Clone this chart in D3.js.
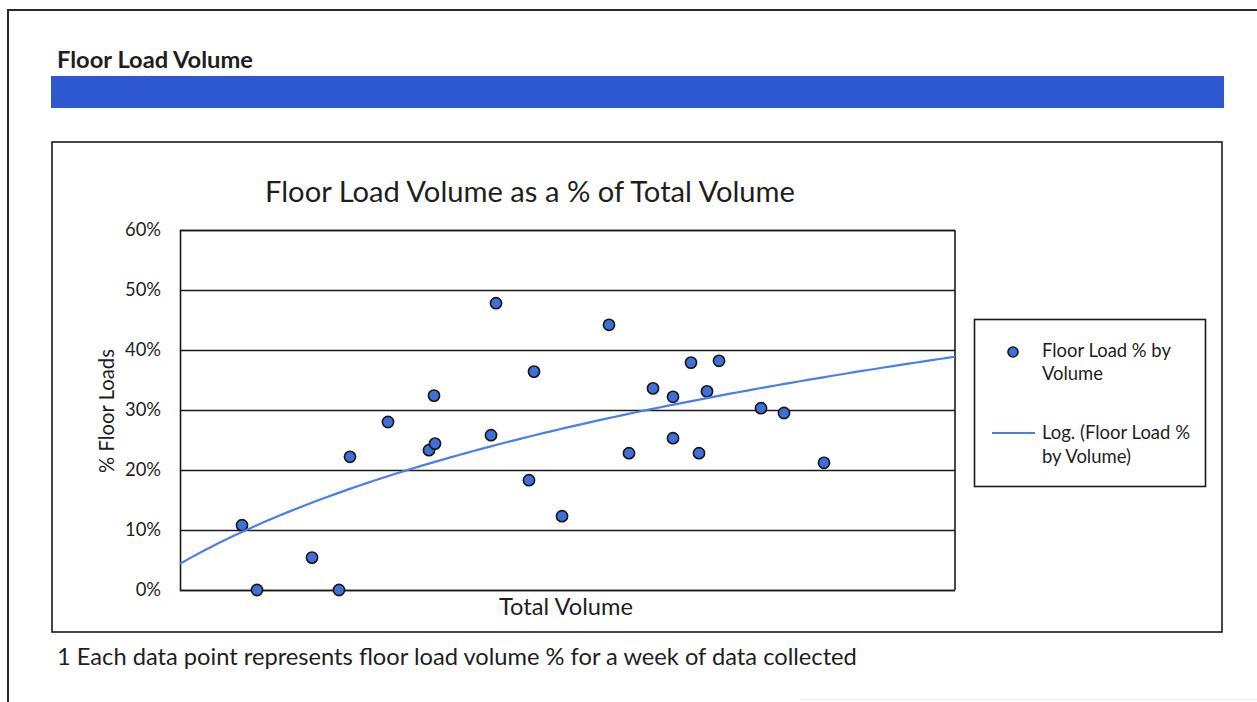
<!DOCTYPE html>
<html>
<head>
<meta charset="utf-8">
<script src="https://cdn.jsdelivr.net/npm/d3@7"></script>
<style>
  html, body { margin: 0; padding: 0; background: #fff; }
  svg { display: block; }
  text { font-family: Lato, "Open Sans", "Noto Sans", sans-serif; fill: #1e1e1e; }
</style>
</head>
<body>
<script>
// Weekly observations: total volume vs. share of that volume that was floor loaded
const totalVolume = [3290, 3440, 3990, 4260, 4370, 4750, 5160, 5220, 5210, 5780, 5830, 6160, 6210,
                     6490, 6960, 7160, 7400, 7600, 7600, 7780, 7860, 7940, 8060, 8480, 8710, 9110];
const floorLoadPct = [0.108, 0.000, 0.054, 0.000, 0.222, 0.280, 0.233, 0.244, 0.324, 0.258, 0.478, 0.183, 0.364,
                      0.123, 0.442, 0.228, 0.336, 0.253, 0.322, 0.379, 0.228, 0.331, 0.382, 0.303, 0.295, 0.212];
const volumeRange = [2670, 10420];
const pctTicks = [0, 0.1, 0.2, 0.3, 0.4, 0.5, 0.6];

const sectionTitle = "Floor Load Volume";
const chartTitle = "Floor Load Volume as a % of Total Volume";
const yAxisTitle = "% Floor Loads";
const xAxisTitle = "Total Volume";
const seriesName = ["Floor Load % by", "Volume"];
const trendName = ["Log. (Floor Load %", "by Volume)"];
const footnote = "1 Each data point represents floor load volume % for a week of data collected";

const W = 1257, H = 702;
const svg = d3.select("body").append("svg").attr("width", W).attr("height", H);
svg.append("rect").attr("width", W).attr("height", H).attr("fill", "#fff");

// scale a text's font size so it spans a given width
function fit(sel, width) {
  const fs = parseFloat(sel.attr("font-size"));
  const len = sel.node().getComputedTextLength();
  sel.attr("font-size", (fs * width / len).toFixed(2));
  return sel;
}

// page frame
svg.append("path").attr("d", `M8,${H} V10 H${W}`)
  .attr("fill", "none").attr("stroke", "#2a2a2a").attr("stroke-width", 2);
svg.append("line").attr("x1", 800).attr("x2", W).attr("y1", 699.5).attr("y2", 699.5)
  .attr("stroke", "#f0f0f0").attr("stroke-width", 1);

// section heading and band
fit(svg.append("text").attr("x", 57).attr("y", 68).attr("font-size", 20)
  .attr("font-weight", 700).attr("fill", "#111").text(sectionTitle), 196);
svg.append("rect").attr("x", 51).attr("y", 76).attr("width", 1173).attr("height", 32)
  .attr("fill", "#2d58d2");

// chart frame
svg.append("rect").attr("x", 52).attr("y", 142).attr("width", 1170).attr("height", 490)
  .attr("fill", "none").attr("stroke", "#1a1a1a").attr("stroke-width", 1.6);

fit(svg.append("text").attr("x", 530).attr("y", 202).attr("text-anchor", "middle")
  .attr("font-size", 26).text(chartTitle), 530);

// plot area
const plot = { left: 180, right: 955, top: 230, bottom: 590 };
const x = d3.scaleLinear().domain(volumeRange).range([plot.left, plot.right]);
const y = d3.scaleLinear().domain([0, 0.6]).range([plot.bottom, plot.top]);

const yAxis = svg.append("g").attr("transform", `translate(${plot.left},0)`)
  .call(d3.axisLeft(y).tickValues(pctTicks).tickFormat(d3.format(".0%"))
    .tickSize(-(plot.right - plot.left)).tickPadding(19));
yAxis.select(".domain").attr("stroke", "#1a1a1a").attr("stroke-width", 1.6);
yAxis.selectAll(".tick line").attr("stroke", "#1a1a1a").attr("stroke-width", 1.6);
const tickTexts = yAxis.selectAll(".tick text").attr("font-size", 16.5).attr("fill", "#383838")
  .style("font-family", "Lato, 'Open Sans', sans-serif");
// size tick labels so "60%" spans its measured width
const topTick = tickTexts.filter(d => d === 0.6);
fit(topTick, 36);
tickTexts.attr("font-size", topTick.attr("font-size"));
svg.append("line").attr("x1", plot.right).attr("x2", plot.right)
  .attr("y1", plot.top).attr("y2", plot.bottom)
  .attr("stroke", "#1a1a1a").attr("stroke-width", 1.6);

fit(svg.append("text").attr("transform", "translate(114,411) rotate(-90)")
  .attr("text-anchor", "middle").attr("font-size", 16).attr("fill", "#383838").text(yAxisTitle), 124);
fit(svg.append("text").attr("x", 566).attr("y", 615).attr("text-anchor", "middle")
  .attr("font-size", 18).attr("fill", "#222").text(xAxisTitle), 134);

// logarithmic least-squares trend: y = a ln(x) + b
const lx = totalVolume.map(Math.log);
const mx = d3.mean(lx), my = d3.mean(floorLoadPct);
const a = d3.sum(lx, (v, i) => (v - mx) * (floorLoadPct[i] - my)) / d3.sum(lx, v => (v - mx) ** 2);
const b = my - a * mx;
const trendX = d3.range(0, 101).map(i => volumeRange[0] + (volumeRange[1] - volumeRange[0]) * i / 100);

svg.append("clipPath").attr("id", "plotClip").append("rect")
  .attr("x", plot.left).attr("y", plot.top)
  .attr("width", plot.right - plot.left).attr("height", plot.bottom - plot.top);

svg.append("g").selectAll("circle").data(totalVolume).join("circle")
  .attr("cx", d => x(d)).attr("cy", (d, i) => y(floorLoadPct[i])).attr("r", 5.6)
  .attr("fill", "#3f6fd8").attr("stroke", "#161616").attr("stroke-width", 1.6);

svg.append("path").datum(trendX).attr("clip-path", "url(#plotClip)")
  .attr("d", d3.line().x(d => x(d)).y(d => y(a * Math.log(d) + b)))
  .attr("fill", "none").attr("stroke", "#4a7fe6").attr("stroke-width", 2.2);

// legend
svg.append("rect").attr("x", 974.5).attr("y", 319.5).attr("width", 231).attr("height", 167)
  .attr("fill", "#fff").attr("stroke", "#1a1a1a").attr("stroke-width", 1.6);
svg.append("circle").attr("cx", 1013).attr("cy", 352).attr("r", 5)
  .attr("fill", "#3f6fd8").attr("stroke", "#161616").attr("stroke-width", 1.6);
svg.append("line").attr("x1", 992).attr("x2", 1035).attr("y1", 433).attr("y2", 433)
  .attr("stroke", "#4a7fe6").attr("stroke-width", 2.2);
const lg = svg.append("g");
const s1 = fit(lg.append("text").attr("x", 1042).attr("y", 357).attr("font-size", 16).attr("fill", "#383838").text(seriesName[0]), 129);
lg.append("text").attr("x", 1042).attr("y", 380).attr("font-size", s1.attr("font-size")).attr("fill", "#383838").text(seriesName[1]);
const s2 = fit(lg.append("text").attr("x", 1042).attr("y", 439).attr("font-size", 16).attr("fill", "#383838").text(trendName[0]), 148);
lg.append("text").attr("x", 1042).attr("y", 463).attr("font-size", s2.attr("font-size")).attr("fill", "#383838").text(trendName[1]);

// footnote
fit(svg.append("text").attr("x", 57).attr("y", 665).attr("font-size", 20).attr("fill", "#222")
  .text(footnote), 800);
</script>
</body>
</html>
